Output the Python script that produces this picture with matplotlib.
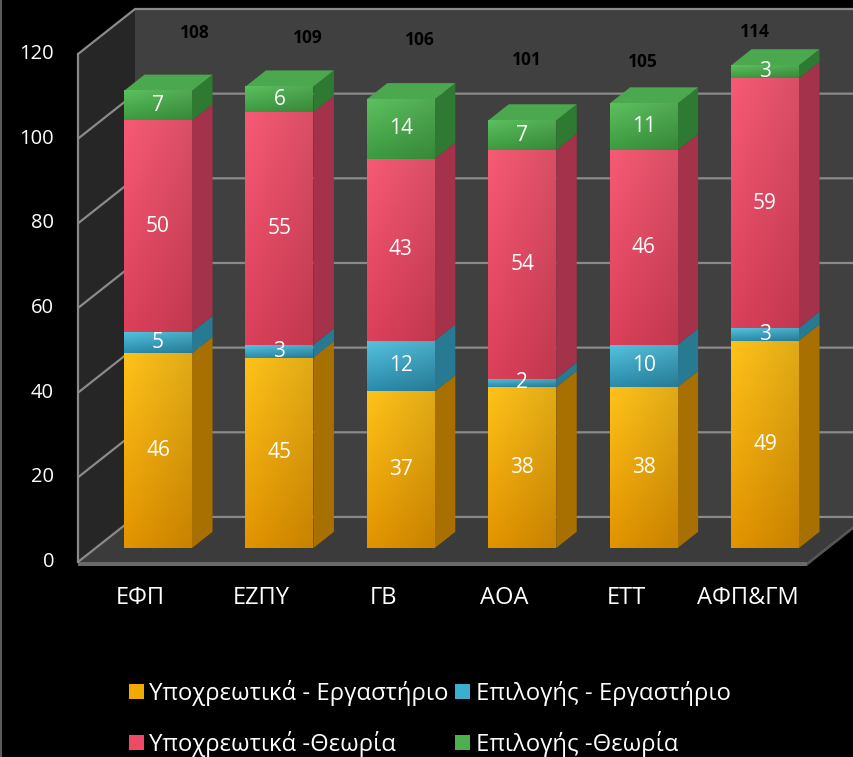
import numpy as np
import matplotlib
matplotlib.use("Agg")
import matplotlib.pyplot as plt
from matplotlib.patches import Polygon, Patch
import matplotlib.colors as mcolors

plt.rcParams['font.family'] = ['Open Sans', 'DejaVu Sans']

# ---------------- data ----------------
categories = ['ΕΦΠ', 'ΕΖΠΥ', 'ΓΒ', 'ΑΟΑ', 'ΕΤΤ', 'ΑΦΠ&ΓΜ']
series_names = ['Υποχρεωτικά - Εργαστήριο', 'Επιλογής - Εργαστήριο',
                'Υποχρεωτικά -Θεωρία', 'Επιλογής -Θεωρία']
lab_compulsory = [46, 45, 37, 38, 38, 49]
lab_elective = [5, 3, 12, 2, 10, 3]
theory_compulsory = [50, 55, 43, 54, 46, 59]
theory_elective = [7, 6, 14, 7, 11, 3]
y_ticks = [0, 20, 40, 60, 80, 100, 120]

# ---------------- style / layout ----------------
front_cols = ['#F2AA00', '#3AAFD0', '#EE4A64', '#4DB04F']
top_cols = ['#FFC21A', '#55C3E0', '#F75A74', '#5CC05E']
bot_cols = ['#E39400', '#2B8CAC', '#DC405A', '#3E9B41']
side_cols = ['#A87000', '#287A92', '#A3324A', '#2E7A32']
roof_cols = ['#FFC840', '#60C8E4', '#FA6A80', '#4CA84E']

PX_X = 121.4     # pixels per category
PX_Y = 4.233     # pixels per unit value
DX, DY = 57 / PX_X, 45 / PX_Y      # full floor depth in data units
D0 = 0.31                           # bar plane depth fraction
BD = 0.36                           # bar depth fraction
BAR_W = 0.56
XW = -0.513       # left wall x in bar-plane coordinates
XR = 5.49         # floor right end
YMAX = 120

def dp(x, y, f):
    return (x + f * DX, y + f * DY)

fig = plt.figure(figsize=(8.54, 7.57), dpi=100)
fig.patch.set_facecolor('black')
ax = fig.add_axes([0, 0, 1, 1])
ax.set_facecolor('black')
xmin, xmax = -158 / PX_X, (854 - 158) / PX_X
ax.set_xlim(xmin, xmax)
ax.set_ylim((548 - 757) / PX_Y, 548 / PX_Y)
ax.axis('off')

ff, fb = -D0, 1 - D0
# walls
ax.add_patch(Polygon([dp(XW, 0, ff), dp(XW, YMAX, ff), dp(XW, YMAX, fb), dp(XW, 0, fb)],
                     closed=True, facecolor='#262626', edgecolor='none', zorder=0))
ax.add_patch(Polygon([dp(XW, 0, fb), dp(XW, YMAX, fb), (xmax + 1, dp(0, YMAX, fb)[1]),
                      (xmax + 1, dp(0, 0, fb)[1])],
                     closed=True, facecolor='#404040', edgecolor='none', zorder=0))
# floor + front thickness
ax.add_patch(Polygon([dp(XW, 0, ff), dp(XR, 0, ff), dp(XR, 0, fb), dp(XW, 0, fb)],
                     closed=True, facecolor='#3b3b3b', edgecolor='none', zorder=0.5))
thick = 4 / PX_Y
ax.add_patch(Polygon([dp(XW, 0, ff), dp(XR, 0, ff), dp(XR, -thick, ff), dp(XW, -thick, ff)],
                     closed=True, facecolor='#6a6a6a', edgecolor='none', zorder=0.5))
ax.add_patch(Polygon([dp(XR, 0, ff), dp(XR, 0, fb), dp(XR, -thick, fb), dp(XR, -thick, ff)],
                     closed=True, facecolor='#555555', edgecolor='none', zorder=0.5))

# gridlines
grid_col = '#8a8a8a'
for v in y_ticks:
    p1, p2 = dp(XW, v, ff), dp(XW, v, fb)
    ax.plot([p1[0], p2[0], xmax + 1], [p1[1], p2[1], p2[1]], color=grid_col, lw=1.6,
            zorder=1, solid_capstyle='butt')
p1, p2 = dp(XW, 0, ff), dp(XW, YMAX, ff)
ax.plot([p1[0], p2[0]], [p1[1], p2[1]], color=grid_col, lw=1.6, zorder=1)

# tick labels
for v in y_ticks:
    ax.text((54 - 158) / PX_X, v - D0 * DY, str(v), color='white', fontsize=14.5,
            ha='right', va='center')

# category labels
x = np.arange(len(categories))
for i, c in enumerate(categories):
    ax.text(i - D0 * DX, (548 - 598) / PX_Y, c, color='white', fontsize=17,
            ha='center', va='center')

# bars
series = [lab_compulsory, lab_elective, theory_compulsory, theory_elective]
bottom = np.zeros(len(categories))
n = len(series)
for s, vals in enumerate(series):
    vals = np.array(vals, dtype=float)
    bars = ax.bar(x, vals, bottom=bottom, width=BAR_W, color=front_cols[s],
                  edgecolor='none', zorder=3)
    cmap = mcolors.LinearSegmentedColormap.from_list('g', [bot_cols[s], top_cols[s]])
    for i, b in enumerate(bars):
        x0, y0, w, h = b.get_x(), b.get_y(), b.get_width(), b.get_height()
        grad = np.linspace(0, 1, 64).reshape(-1, 1)
        hgrad = np.linspace(1.0, 0.88, 32).reshape(1, -1)
        img = cmap(np.repeat(grad, 32, axis=1))
        img[..., :3] = img[..., :3] * hgrad[..., None]
        ax.imshow(img, extent=[x0, x0 + w, y0, y0 + h], origin='lower',
                  aspect='auto', zorder=3.1, interpolation='bilinear')
        xr = x0 + w
        ax.add_patch(Polygon([(xr, y0), (xr, y0 + h), dp(xr, y0 + h, BD), dp(xr, y0, BD)],
                             closed=True, facecolor=side_cols[s], edgecolor='none', zorder=3))
        if s == n - 1:
            ax.add_patch(Polygon([(x0, y0 + h), (xr, y0 + h), dp(xr, y0 + h, BD),
                                  dp(x0, y0 + h, BD)],
                                 closed=True, facecolor=roof_cols[s], edgecolor='none',
                                 zorder=3))
        ax.text(x0 + w / 2, y0 + h / 2, f'{int(vals[i])}', color='white', fontsize=15,
                ha='center', va='center', zorder=5)
    bottom = bottom + vals

# totals labels (positions on the back wall)
totals = bottom.astype(int)
total_label_dx = [0.305, 0.236, 0.158, 0.04, -0.005, -0.082]
total_label_y = [121.7, 120.6, 120.1, 115.4, 114.9, 122.0]
for i, t in enumerate(totals):
    ax.text(i + total_label_dx[i], total_label_y[i], str(t), color='black', fontsize=12.5,
            fontweight='bold', ha='center', va='center', zorder=2)

# left border
ax.plot([xmin + 0.008, xmin + 0.008], [-60, 140], color='#5a5a5a', lw=1.5, zorder=6)

# legend
handles = [Patch(facecolor=front_cols[k], edgecolor='none') for k in range(4)]
order = [0, 2, 1, 3]
leg = fig.legend([handles[k] for k in order], [series_names[k] for k in order],
                 ncol=2, loc='upper left', bbox_to_anchor=(129 / 854, 1 - 680 / 757),
                 frameon=False, fontsize=17.2, labelcolor='white',
                 handlelength=0.63, handleheight=0.63, handletextpad=0.22,
                 columnspacing=0.28, labelspacing=1.05, borderpad=0, borderaxespad=0)

fig.savefig('out.png', dpi=100, facecolor='black')
